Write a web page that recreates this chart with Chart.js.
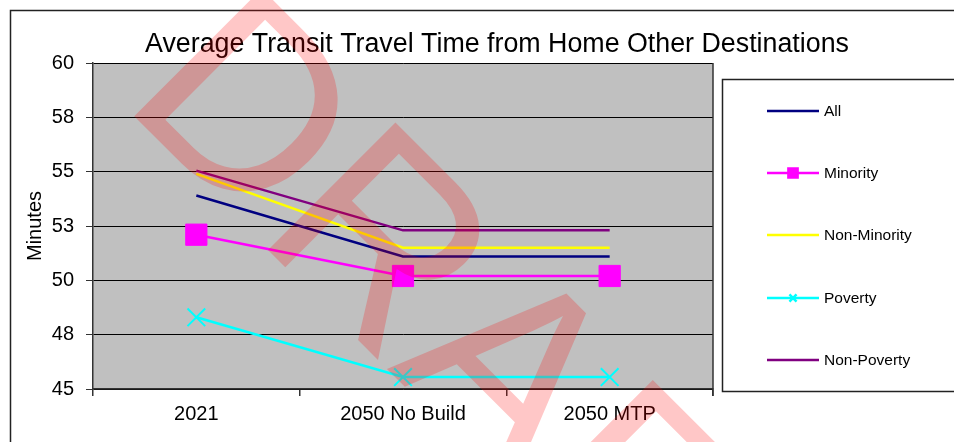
<!DOCTYPE html>
<html>
<head>
<meta charset="utf-8">
<script src="https://cdn.jsdelivr.net/npm/chart.js@4.4.0/dist/chart.umd.min.js"></script>
<style>
  html, body { margin: 0; padding: 0; background: #fff; }
  canvas { display: block; }
</style>
</head>
<body>
<canvas id="travelChart" width="954" height="442"></canvas>
<script>
const categories = ['2021', '2050 No Build', '2050 MTP'];
const allValues = [53.9, 51.1, 51.1];
const minorityValues = [52.1, 50.2, 50.2];
const nonMinorityValues = [54.9, 51.5, 51.5];
const povertyValues = [48.3, 45.55, 45.55];
const nonPovertyValues = [55.05, 52.3, 52.3];
const yTicks = [45, 47.5, 50, 52.5, 55, 57.5, 60];

const titleText = 'Average Transit Travel Time from Home Other Destinations';
const fontFamily = "'Liberation Sans', Arial, sans-serif";

Chart.defaults.font.family = fontFamily;
Chart.defaults.color = '#000';

// frame, plot background, title
const backdrop = {
    id: 'backdrop',
    beforeDraw: (chart) => {
        const ctx = chart.ctx;
        const a = chart.chartArea;
        ctx.save();
        ctx.fillStyle = '#fff';
        ctx.fillRect(0, 0, chart.width, chart.height);
        ctx.strokeStyle = '#222';
        ctx.lineWidth = 1.5;
        ctx.strokeRect(10.5, 10.5, chart.width + 20, chart.height + 20);
        ctx.fillStyle = '#c0c0c0';
        ctx.fillRect(a.left, a.top, a.right - a.left, a.bottom - a.top);
        ctx.fillStyle = '#000';
        ctx.font = '26.8px ' + fontFamily;
        ctx.textAlign = 'center';
        ctx.textBaseline = 'alphabetic';
        ctx.fillText(titleText, 497, 52);
        ctx.restore();
    },
    beforeDatasetsDraw: (chart) => {
        const ctx = chart.ctx;
        const a = chart.chartArea;
        ctx.save();
        ctx.strokeStyle = '#333';
        ctx.lineWidth = 1.5;
        ctx.beginPath();
        ctx.moveTo(a.right, a.top);
        ctx.lineTo(a.right, a.bottom + 7);
        ctx.stroke();
        ctx.restore();
    }
};

// boxed legend on the right
const boxLegend = {
    id: 'boxLegend',
    afterDatasetsDraw: (chart) => {
        const ctx = chart.ctx;
        ctx.save();
        ctx.strokeStyle = '#222';
        ctx.lineWidth = 1.5;
        ctx.strokeRect(722.5, 79.5, 260, 312);
        const rowY = [111, 173, 235, 298, 360];
        chart.data.datasets.forEach((ds, i) => {
            const y = rowY[i];
            ctx.strokeStyle = ds.borderColor;
            ctx.lineWidth = 2.5;
            ctx.beginPath();
            ctx.moveTo(767, y);
            ctx.lineTo(819, y);
            ctx.stroke();
            if (ds.pointRadius > 0) {
                ctx.fillStyle = ds.borderColor;
                ctx.strokeStyle = ds.borderColor;
                Chart.helpers.drawPoint(ctx, {
                    pointStyle: ds.pointStyle,
                    radius: ds.pointStyle === 'rect' ? 6.5 : 5,
                    borderWidth: 2,
                    rotation: 0
                }, 793, y);
            }
            ctx.fillStyle = '#000';
            ctx.font = '15.5px ' + fontFamily;
            ctx.textAlign = 'left';
            ctx.textBaseline = 'middle';
            ctx.fillText(ds.label, 824, y + 1);
        });
        ctx.restore();
    }
};

// DRAFT stamp over the whole picture
const watermark = {
    id: 'watermark',
    afterDraw: (chart) => {
        const ctx = chart.ctx;
        ctx.save();
        ctx.translate(119, 101);
        ctx.rotate(Math.PI / 4);
        ctx.fillStyle = 'rgba(255, 0, 0, 0.22)';
        ctx.font = '262px ' + fontFamily;
        ctx.textBaseline = 'alphabetic';
        ctx.fillText('DRAFT', 0, 0);
        ctx.restore();
    }
};

const ctx = document.getElementById('travelChart').getContext('2d');
new Chart(ctx, {
    type: 'line',
    data: {
        labels: categories,
        datasets: [
            { label: 'All', data: allValues, borderColor: '#000080', backgroundColor: '#000080', pointRadius: 0 },
            { label: 'Minority', data: minorityValues, borderColor: '#ff00ff', backgroundColor: '#ff00ff',
              pointStyle: 'rect', pointRadius: 15, pointBackgroundColor: '#ff00ff', pointBorderColor: '#ff00ff', pointBorderWidth: 1 },
            { label: 'Non-Minority', data: nonMinorityValues, borderColor: '#ffff00', backgroundColor: '#ffff00', pointRadius: 0 },
            { label: 'Poverty', data: povertyValues, borderColor: '#00ffff', backgroundColor: '#00ffff',
              pointStyle: 'crossRot', pointRadius: 12.5, pointBorderColor: '#00ffff', pointBorderWidth: 2 },
            { label: 'Non-Poverty', data: nonPovertyValues, borderColor: '#800080', backgroundColor: '#800080', pointRadius: 0 }
        ]
    },
    options: {
        responsive: false,
        animation: false,
        layout: { padding: { left: 10, top: 63, right: 241, bottom: 0 } },
        elements: { line: { borderWidth: 2.5, tension: 0 } },
        plugins: {
            legend: { display: false },
            title: { display: false },
            tooltip: { enabled: false }
        },
        scales: {
            x: {
                offset: true,
                grid: { offset: true, drawOnChartArea: false, drawTicks: true, tickLength: 7, color: '#333', lineWidth: 1.5 },
                border: { color: '#333', width: 1.5 },
                ticks: { font: { size: 20 }, color: '#000', padding: 6 },
                afterFit: (scale) => { scale.height = 53; }
            },
            y: {
                min: 45,
                max: 60,
                afterBuildTicks: (scale) => { scale.ticks = yTicks.map(v => ({ value: v })); },
                grid: { color: '#000', lineWidth: 1, tickLength: 7, tickColor: '#333' },
                border: { color: '#333', width: 1.5 },
                ticks: {
                    font: { size: 20 },
                    color: '#000',
                    padding: 12,
                    callback: (v) => Math.round(v)
                },
                title: { display: true, text: 'Minutes', font: { size: 20 }, color: '#000', padding: { top: 13, bottom: 0 } },
                afterFit: (scale) => { scale.width = 83; }
            }
        }
    },
    plugins: [backdrop, boxLegend, watermark]
});
</script>
</body>
</html>
